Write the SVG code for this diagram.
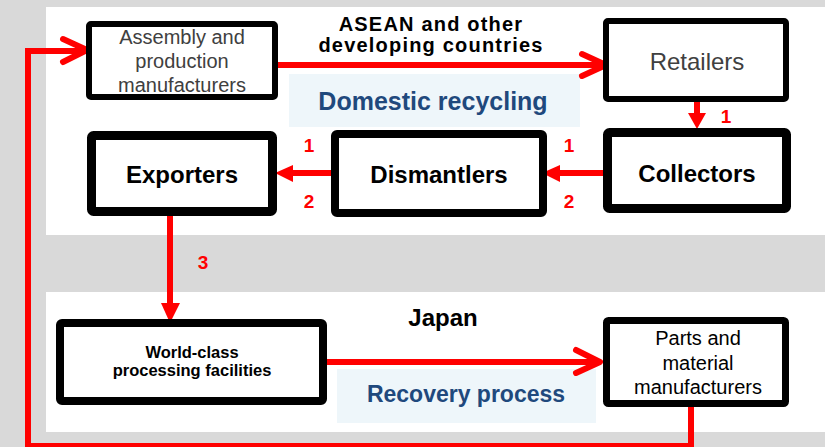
<svg xmlns="http://www.w3.org/2000/svg" width="825" height="447" viewBox="0 0 825 447">
<style>
.box{fill:#fff;stroke:#000;}
.t{font-family:"Liberation Sans",Arial,sans-serif;text-anchor:middle;}
.g{fill:#404040;}
.b{font-weight:bold;fill:#000;}
.blue{font-weight:bold;fill:#1f497d;}
.num{font-family:"Liberation Sans",Arial,sans-serif;font-weight:bold;fill:#ff0000;font-size:19px;text-anchor:middle;}
.ln{fill:none;stroke:#ff0000;stroke-width:6;}
.chev{fill:none;stroke:#ff0000;stroke-width:6;stroke-linecap:round;stroke-linejoin:round;}
.head{fill:#ff0000;}
</style>
<rect x="0" y="0" width="825" height="447" fill="#d9d9d9"/>
<rect x="46" y="7" width="779" height="228" fill="#fff"/>
<rect x="46" y="292" width="779" height="140" fill="#fff"/>
<rect x="289" y="74" width="291" height="53" fill="#eef6fa"/>
<rect x="337" y="369" width="259" height="54" fill="#eef6fa"/>
<text class="t b" x="431" y="31" font-size="20" letter-spacing="1.2">ASEAN and other</text>
<text class="t b" x="431" y="52" font-size="20" letter-spacing="1.2">developing countries</text>
<text class="t blue" x="433" y="110" font-size="25">Domestic recycling</text>
<text class="t b" x="443" y="326" font-size="24">Japan</text>
<text class="t blue" x="466" y="402" font-size="23">Recovery process</text>
<g id="connectors">
<path class="ln" d="M278,65 H604"/>
<path class="chev" d="M582,54 L606,65 L582,76"/>
<path class="ln" d="M697,102 V114" stroke-width="8"/>
<polygon class="head" points="688,113 706,113 697,129"/>
<path class="ln" d="M603,173 H558"/>
<polygon class="head" points="560,165 560,182 542,173"/>
<path class="ln" d="M331,173 H292"/>
<polygon class="head" points="293,165 293,182 275,173"/>
<path class="ln" d="M170,216 V305"/>
<polygon class="head" points="161,303 180,303 170,323"/>
<path class="ln" d="M327,362 H599"/>
<path class="chev" d="M576,350 L600,362 L576,373"/>
<path class="ln" d="M691,407 V446 H28 V51 H86" stroke-width="7"/>
<path class="chev" d="M63,39 L87,50 L63,62"/>
<text class="num" x="726" y="123">1</text>
<text class="num" x="569" y="152">1</text>
<text class="num" x="569" y="208">2</text>
<text class="num" x="309" y="152">1</text>
<text class="num" x="309" y="208">2</text>
<text class="num" x="203" y="269">3</text>
</g>
<g id="assembly">
<rect class="box" x="89" y="24" width="186" height="73" rx="2" stroke-width="6"/>
<text class="t g" x="182" y="44" font-size="20">Assembly and</text>
<text class="t g" x="182" y="68" font-size="20">production</text>
<text class="t g" x="182" y="92" font-size="20">manufacturers</text>
</g>
<g id="retailers">
<rect class="box" x="606" y="21" width="180" height="78" rx="2" stroke-width="6"/>
<text class="t g" x="697" y="70" font-size="24">Retailers</text>
</g>
<g id="collectors">
<rect class="box" x="607.5" y="132.5" width="179" height="76" rx="2" stroke-width="9"/>
<text class="t b" x="697" y="182" font-size="24">Collectors</text>
</g>
<g id="dismantlers">
<rect class="box" x="335" y="134" width="208" height="79" rx="2" stroke-width="8"/>
<text class="t b" x="439" y="183" font-size="24">Dismantlers</text>
</g>
<g id="exporters">
<rect class="box" x="91.5" y="135.5" width="181" height="76" rx="2" stroke-width="9"/>
<text class="t b" x="182" y="183" font-size="24">Exporters</text>
</g>
<g id="worldclass">
<rect class="box" x="60" y="323" width="263" height="78" rx="2" stroke-width="8"/>
<text class="t b" x="192" y="358" font-size="16.5">World-class</text>
<text class="t b" x="192" y="376" font-size="16.5">processing facilities</text>
</g>
<g id="parts">
<rect class="box" x="606.5" y="320.5" width="179" height="83" rx="2" stroke-width="7"/>
<text class="t" x="698" y="345" font-size="20" fill="#000">Parts and</text>
<text class="t" x="698" y="370" font-size="20" fill="#000">material</text>
<text class="t" x="698" y="394" font-size="20" fill="#000">manufacturers</text>
</g>
</svg>
